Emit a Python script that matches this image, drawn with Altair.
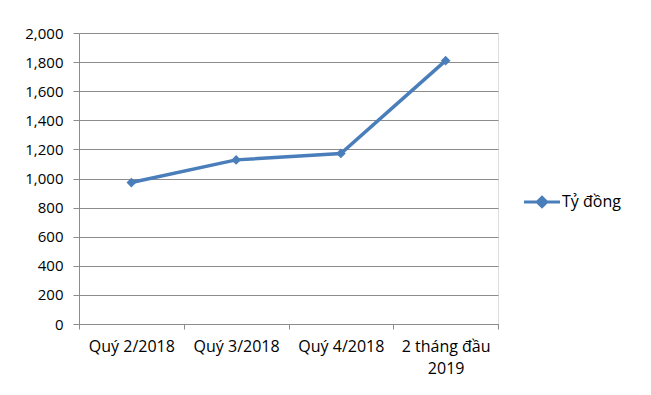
import altair as alt
import pandas as pd

categories = ["Quý 2/2018", "Quý 3/2018", "Quý 4/2018", "2 tháng đầu\n2019"]
values = [972, 1128, 1172, 1810]
series_name = "Tỷ đồng"
y_ticks = [0, 200, 400, 600, 800, 1000, 1200, 1400, 1600, 1800, 2000]

df = pd.DataFrame({
    "cat": categories,
    "pos": [i + 0.5 for i in range(len(categories))],
    "value": values,
    "series": [series_name] * len(categories),
})

# label expression mapping band centres to category names (multi-line allowed)
parts = []
for i, c in enumerate(categories):
    lines = c.split("\n")
    arr = "[" + ",".join("'" + l + "'" for l in lines) + "]"
    parts.append(f"datum.value == {i + 0.5} ? {arr} : ")
label_expr = "".join(parts) + "''"

x_vals = [i * 0.5 for i in range(2 * len(categories) + 1)]

BLUE = "#4A7EBB"
GRID = "#8C8C8C"
FONT = "Open Sans"

chart = alt.Chart(df).mark_line(
    strokeWidth=3.5,
    point=alt.OverlayMarkDef(shape="diamond", size=95, filled=True, opacity=1),
).encode(
    x=alt.X(
        "pos:Q",
        scale=alt.Scale(domain=[0, len(categories)], nice=False, zero=False),
        axis=alt.Axis(
            values=x_vals,
            labelExpr=label_expr,
            title=None,
            grid=False,
            domainColor=GRID,
            tickColor=GRID,
            tickSize=5,
            tickOpacity={"condition": {"test": "datum.value % 1 !== 0", "value": 0}, "value": 1},
            labelFont=FONT,
            labelFontSize=16,
            labelColor="#000000",
            labelPadding=9,
            labelLineHeight=22,
            labelBound=False,
            labelOverlap=False,
            labelFlush=False,
        ),
    ),
    y=alt.Y(
        "value:Q",
        scale=alt.Scale(domain=[0, 2000], nice=False),
        axis=alt.Axis(
            values=y_ticks,
            format=",.0f",
            title=None,
            gridColor=GRID,
            gridWidth=1,
            domainColor=GRID,
            tickColor=GRID,
            tickSize=6,
            labelFont=FONT,
            labelFontSize=15,
            labelColor="#000000",
            labelPadding=10,
        ),
    ),
    color=alt.Color(
        "series:N",
        scale=alt.Scale(range=[BLUE]),
        legend=alt.Legend(
            title=None,
            orient="none",
            legendX=443,
            legendY=149,
            symbolType="M-1,0H1M0,-0.26L0.26,0L0,0.26L-0.26,0Z",
            symbolSize=1300,
            symbolStrokeWidth=3,
            symbolFillColor=BLUE,
            symbolStrokeColor=BLUE,
            labelFont=FONT,
            labelFontSize=16,
            labelColor="#000000",
            labelOffset=0,
        ),
    ),
).properties(
    width=419,
    height=291,
    autosize=alt.AutoSizeParams(type="none"),
    padding={"left": 71, "top": 25, "right": 140, "bottom": 60},
).configure_view(
    stroke=None
).configure(
    background="#FFFFFF"
)

chart.save("out.html", embed_options={"renderer": "svg", "actions": False})
